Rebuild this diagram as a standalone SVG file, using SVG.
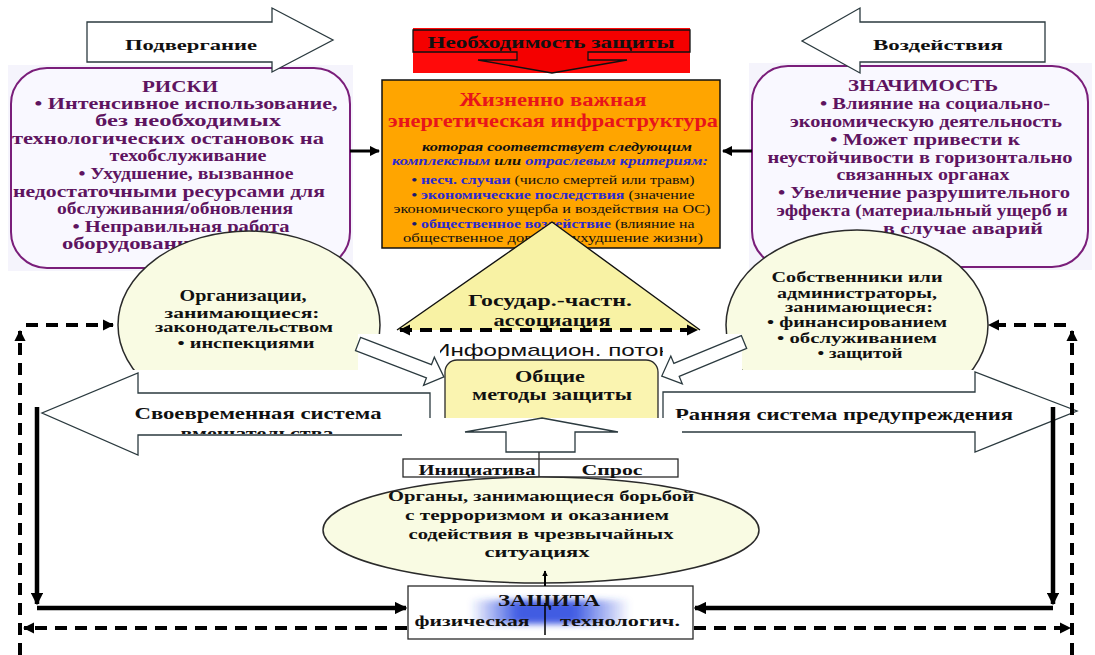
<svg xmlns="http://www.w3.org/2000/svg" width="1095" height="655" viewBox="0 0 1095 655">
  <defs>
    <style>
      .t { font-family: "Liberation Serif", "DejaVu Serif", serif; font-weight: bold; text-anchor: middle; }
      .s { font-family: "Liberation Sans", "DejaVu Sans", sans-serif; text-anchor: middle; }
      .purple { fill: #5E1460; font-size: 16px; }
      .blk { fill: #111; }
      .red { fill: #E8141B; font-size: 18px; }
      .sm { font-size: 12px; }
      .blue { fill: #2A2ACF; }
      .nrm { font-weight: normal; }
      .ital { font-style: italic; }
      .box { stroke: #7A1E7A; stroke-width: 2; fill: #F9F8FF; }
      .bg { fill: #F5F4FC; }
      .oval { fill: #F9FBE3; stroke: #2a2a2a; stroke-width: 1.5; }
      .blockarrow { fill: #fff; stroke: #2b3a3f; stroke-width: 1.3; }
      .thick { fill: none; stroke: #000; stroke-width: 4.5; }
      .dash { fill: none; stroke: #000; stroke-width: 4; stroke-dasharray: 12 8; }
      .thin { fill: none; stroke: #000; stroke-width: 3; }
    </style>
    <marker id="tip" viewBox="0 0 10 10" refX="9" refY="5" markerWidth="2.8" markerHeight="2.8" orient="auto">
      <path d="M0,0 L10,5 L0,10 z" fill="#000"/>
    </marker>
    <marker id="tipS" viewBox="0 0 10 10" refX="9" refY="5" markerWidth="3.5" markerHeight="3.5" orient="auto">
      <path d="M0,0 L10,5 L0,10 z" fill="#000"/>
    </marker>
    <marker id="tipStart" viewBox="0 0 10 10" refX="1" refY="5" markerWidth="2.8" markerHeight="2.8" orient="auto">
      <path d="M10,0 L0,5 L10,10 z" fill="#000"/>
    </marker>
    <linearGradient id="glow" x1="0" y1="0" x2="1" y2="0">
      <stop offset="0" stop-color="#2C4BE0" stop-opacity="0"/>
      <stop offset="0.3" stop-color="#2C4BE0" stop-opacity="0.9"/>
      <stop offset="0.65" stop-color="#2C4BE0" stop-opacity="0.9"/>
      <stop offset="1" stop-color="#2C4BE0" stop-opacity="0"/>
    </linearGradient>
    <filter id="soft" x="-20%" y="-50%" width="140%" height="200%">
      <feGaussianBlur stdDeviation="3"/>
    </filter>
    <clipPath id="clipInfo"><rect x="440" y="330" width="223" height="30"/></clipPath>
    <clipPath id="clipLeftArrow"><rect x="40" y="370" width="400" height="64"/></clipPath>
  </defs>

  <rect width="1095" height="655" fill="#fff"/>

  <!-- risks -->
  <g id="risks">
    <rect class="bg" x="8" y="65" width="345" height="206"/>
    <rect class="box" x="11" y="68" width="339" height="200" rx="36"/>
    <text class="t purple" x="180" y="92" textLength="76" lengthAdjust="spacingAndGlyphs">РИСКИ</text>
    <text class="t purple" x="186" y="109" textLength="303" lengthAdjust="spacingAndGlyphs">• Интенсивное использование,</text>
    <text class="t purple" x="188" y="126" textLength="186" lengthAdjust="spacingAndGlyphs">без необходимых</text>
    <text class="t purple" x="168" y="144" textLength="312" lengthAdjust="spacingAndGlyphs">технологических остановок на</text>
    <text class="t purple" x="188" y="161" textLength="157" lengthAdjust="spacingAndGlyphs">техобслуживание</text>
    <text class="t purple" x="186" y="179" textLength="215" lengthAdjust="spacingAndGlyphs">• Ухудшение, вызванное</text>
    <text class="t purple" x="169" y="197" textLength="312" lengthAdjust="spacingAndGlyphs">недостаточными ресурсами для</text>
    <text class="t purple" x="175" y="214" textLength="236" lengthAdjust="spacingAndGlyphs">обслуживания/обновления</text>
    <text class="t purple" x="181" y="232" textLength="217" lengthAdjust="spacingAndGlyphs">• Неправильная работа</text>
    <text class="t purple" x="62" y="249" style="text-anchor:start" textLength="140" lengthAdjust="spacingAndGlyphs">оборудования</text>
  </g>

  <!-- significance -->
  <g id="significance">
    <rect class="bg" x="749" y="63" width="343" height="207"/>
    <rect class="box" x="752" y="66" width="336" height="201" rx="36"/>
    <text class="t purple" x="923" y="91" textLength="150" lengthAdjust="spacingAndGlyphs">ЗНАЧИМОСТЬ</text>
    <text class="t purple" x="935" y="109" textLength="230" lengthAdjust="spacingAndGlyphs">• Влияние на социально-</text>
    <text class="t purple" x="926" y="127" textLength="272" lengthAdjust="spacingAndGlyphs">экономическую деятельность</text>
    <text class="t purple" x="925" y="145" textLength="190" lengthAdjust="spacingAndGlyphs">• Может привести к</text>
    <text class="t purple" x="920" y="163" textLength="305" lengthAdjust="spacingAndGlyphs">неустойчивости в горизонтально</text>
    <text class="t purple" x="923" y="180" textLength="173" lengthAdjust="spacingAndGlyphs">связанных органах</text>
    <text class="t purple" x="924" y="198" textLength="292" lengthAdjust="spacingAndGlyphs">• Увеличение разрушительного</text>
    <text class="t purple" x="922" y="216" textLength="291" lengthAdjust="spacingAndGlyphs">эффекта (материальный ущерб и</text>
    <text class="t purple" x="1043" y="234" style="text-anchor:end" textLength="160" lengthAdjust="spacingAndGlyphs">в случае аварий</text>
  </g>

  <!-- exposure / impact block arrows -->
  <g id="exposure">
    <polygon class="blockarrow" points="87,22 272,22 272,8 333,40 272,72 272,62 87,62"/>
    <text class="t blk" x="191" y="50" font-size="15" textLength="132" lengthAdjust="spacingAndGlyphs">Подвергание</text>
  </g>
  <g id="impact">
    <polygon class="blockarrow" points="1045,22 860,22 860,8 802,41 860,73 860,62 1045,62"/>
    <text class="t blk" x="938" y="50" font-size="15" textLength="130" lengthAdjust="spacingAndGlyphs">Воздействия</text>
  </g>

  <!-- need for protection -->
  <g id="need">
    <rect x="413" y="28" width="277" height="45" fill="#FF0A0A"/>
    <path d="M413,30 H690 V52 H588 V60 H627 L552,73 L478,60 H517 V52 H413 Z" fill="#F40000" stroke="#111" stroke-width="1.3"/>
    <text class="t blk" x="551" y="48" font-size="17" textLength="247" lengthAdjust="spacingAndGlyphs">Необходимость защиты</text>
  </g>

  <!-- critical energy infrastructure -->
  <g id="infrastructure">
    <rect x="382" y="80" width="338" height="168" fill="#FFA500" stroke="#111" stroke-width="1.5"/>
    <text class="t red" x="553" y="106" textLength="187" lengthAdjust="spacingAndGlyphs">Жизненно важная</text>
    <text class="t red" x="553" y="127" textLength="330" lengthAdjust="spacingAndGlyphs">энергетическая инфраструктура</text>
    <text class="t sm ital blk" x="557" y="151" textLength="270" lengthAdjust="spacingAndGlyphs">которая соответствует следующим</text>
    <text class="t sm ital" x="550" y="165" textLength="316" lengthAdjust="spacingAndGlyphs"><tspan class="blue">комплексным </tspan><tspan class="blk">или </tspan><tspan class="blue">отраслевым критериям:</tspan></text>
    <text class="t sm" x="553" y="184" textLength="283" lengthAdjust="spacingAndGlyphs"><tspan fill="#1a1a6e">• </tspan><tspan class="blue">несч. случаи </tspan><tspan class="blk nrm">(число смертей или травм)</tspan></text>
    <text class="t sm" x="553" y="199" textLength="283" lengthAdjust="spacingAndGlyphs"><tspan fill="#1a1a6e">• </tspan><tspan class="blue">экономические последствия </tspan><tspan class="blk nrm">(значение</tspan></text>
    <text class="t sm nrm blk" x="552" y="213" textLength="317" lengthAdjust="spacingAndGlyphs">экономического ущерба и воздействия на ОС)</text>
    <text class="t sm" x="553" y="228" textLength="283" lengthAdjust="spacingAndGlyphs"><tspan fill="#1a1a6e">• </tspan><tspan class="blue">общественное воздействие </tspan><tspan class="blk nrm">(влияние на</tspan></text>
    <text class="t sm nrm blk" x="553" y="242" textLength="300" lengthAdjust="spacingAndGlyphs">общественное доверие, ухудшение жизни)</text>
  </g>

  <!-- regulators -->
  <g id="regulators">
    <ellipse class="oval" cx="249" cy="325" rx="131" ry="94"/>
    <text class="t blk" x="243" y="301" font-size="16" textLength="127" lengthAdjust="spacingAndGlyphs">Организации,</text>
    <text class="t blk" x="242" y="318" font-size="14" textLength="155" lengthAdjust="spacingAndGlyphs">занимающиеся:</text>
    <text class="t blk" x="244" y="332" font-size="14" textLength="178" lengthAdjust="spacingAndGlyphs">законодательством</text>
    <text class="t blk" x="246" y="348" font-size="14" textLength="137" lengthAdjust="spacingAndGlyphs">• инспекциями</text>
  </g>

  <!-- owners / operators -->
  <g id="owners">
    <ellipse class="oval" cx="857" cy="325" rx="131" ry="95"/>
    <text class="t blk" x="857" y="282" font-size="14" textLength="171" lengthAdjust="spacingAndGlyphs">Собственники или</text>
    <text class="t blk" x="857" y="298" font-size="14" textLength="160" lengthAdjust="spacingAndGlyphs">администраторы,</text>
    <text class="t blk" x="859" y="312" font-size="14" textLength="148" lengthAdjust="spacingAndGlyphs">занимающиеся:</text>
    <text class="t blk" x="857" y="327" font-size="14" textLength="180" lengthAdjust="spacingAndGlyphs">• финансированием</text>
    <text class="t blk" x="857" y="343" font-size="14" textLength="160" lengthAdjust="spacingAndGlyphs">• обслуживанием</text>
    <text class="t blk" x="860" y="358" font-size="14" textLength="85" lengthAdjust="spacingAndGlyphs">• защитой</text>
  </g>

  <!-- public-private association -->
  <g id="association">
    <polygon points="552,222 397,330 700,330" fill="#F8F2A4"/>
    <polyline points="397,330 552,222 700,330" fill="none" stroke="#111" stroke-width="1.4"/>
    <text class="t blk" x="550" y="306" font-size="16" textLength="164" lengthAdjust="spacingAndGlyphs">Государ.-частн.</text>
    <text class="t blk" x="552" y="326" font-size="16" textLength="117" lengthAdjust="spacingAndGlyphs">ассоциация</text>
  </g>

  <!-- white areas of the lower block arrows -->
  <g id="masks" fill="#fff">
    <rect x="358" y="334" width="88" height="40"/>
    <rect x="100" y="370" width="346" height="30"/>
    <rect x="662" y="334" width="80" height="40"/>
    <rect x="662" y="370" width="335" height="30"/>
  </g>

  <!-- information flow -->
  <g id="info-flow">
    <text class="s" x="551" y="356" font-size="17" fill="#111" clip-path="url(#clipInfo)" textLength="236" lengthAdjust="spacingAndGlyphs">Информацион. поток</text>
  </g>

  <!-- common protection methods -->
  <g id="methods">
    <rect x="445" y="360" width="213" height="90" rx="12" fill="#FAF4B0" stroke="#2a2a2a" stroke-width="1.3"/>
    <text class="t blk" x="550" y="382" font-size="16" textLength="70" lengthAdjust="spacingAndGlyphs">Общие</text>
    <text class="t blk" x="552" y="400" font-size="16" textLength="160" lengthAdjust="spacingAndGlyphs">методы защиты</text>
  </g>

  <!-- intervention system (left) -->
  <g id="intervention">
    <polygon class="blockarrow" points="430,393 138,393 138,373 42,413 138,455 138,435 430,435"/>
    <g clip-path="url(#clipLeftArrow)">
      <text class="t blk" x="258" y="419" font-size="16" textLength="247" lengthAdjust="spacingAndGlyphs">Своевременная система</text>
      <text class="t blk" x="257" y="439" font-size="16" textLength="153" lengthAdjust="spacingAndGlyphs">вмешательства</text>
    </g>
  </g>

  <!-- early warning system (right) -->
  <g id="early-warning">
    <polygon class="blockarrow" points="663,392 975,392 975,372 1077,411 975,452 975,432 663,432"/>
    <text class="t blk" x="844" y="420" font-size="16" textLength="338" lengthAdjust="spacingAndGlyphs">Ранняя система предупреждения</text>
  </g>

  <!-- information flow arrows -->
  <g id="info-arrows">
    <polygon class="blockarrow" transform="translate(358,344) rotate(21)" points="0,-7 76,-7 76,-15 92,0 76,15 76,7 0,7"/>
    <polygon class="blockarrow" transform="translate(744,342) rotate(157.5)" points="0,-7 73,-7 73,-15 89,0 73,15 73,7 0,7"/>
  </g>

  <rect x="402" y="418" width="280" height="40" fill="#fff"/>

  <!-- initiative / demand -->
  <g id="initiative">
    <polygon class="blockarrow" points="542,418 618,432 575,432 575,452 506,452 506,432 465,432"/>
    <rect x="403" y="459" width="275" height="18" fill="#fff" stroke="#2a2a2a" stroke-width="1.3"/>
    <line x1="539" y1="452" x2="539" y2="477" stroke="#2a2a2a" stroke-width="1.3"/>
    <text class="t blk" x="477" y="475" font-size="15" textLength="117" lengthAdjust="spacingAndGlyphs">Инициатива</text>
    <text class="t blk" x="612" y="475" font-size="15" textLength="61" lengthAdjust="spacingAndGlyphs">Спрос</text>
  </g>

  <!-- counter-terrorism and emergency bodies -->
  <g id="emergency">
    <ellipse class="oval" cx="541" cy="530" rx="218" ry="53"/>
    <text class="t blk" x="541" y="501" font-size="15" textLength="306" lengthAdjust="spacingAndGlyphs">Органы, занимающиеся борьбой</text>
    <text class="t blk" x="537" y="520" font-size="15" textLength="264" lengthAdjust="spacingAndGlyphs">с терроризмом и оказанием</text>
    <text class="t blk" x="541" y="539" font-size="15" textLength="265" lengthAdjust="spacingAndGlyphs">содействия в чрезвычайных</text>
    <text class="t blk" x="537" y="557" font-size="15" textLength="105" lengthAdjust="spacingAndGlyphs">ситуациях</text>
  </g>

  <!-- protection -->
  <g id="protection">
    <rect x="408" y="586" width="285" height="53" fill="#fff" stroke="#2a2a2a" stroke-width="1.3"/>
    <rect x="470" y="600" width="160" height="24" fill="url(#glow)" filter="url(#soft)"/>
    <text class="t blk" x="549" y="606" font-size="16" textLength="102" lengthAdjust="spacingAndGlyphs">ЗАЩИТА</text>
    <text class="t blk" x="472" y="626" font-size="15" textLength="115" lengthAdjust="spacingAndGlyphs">физическая</text>
    <text class="t blk" x="620" y="626" font-size="15" textLength="120" lengthAdjust="spacingAndGlyphs">технологич.</text>
    <line x1="545" y1="603" x2="545" y2="635" stroke="#000" stroke-width="1.5"/>
  </g>

  <!-- connectors -->
  <g id="connectors">
    <path class="thin" d="M350,151 H379" marker-end="url(#tipS)"/>
    <path class="thin" d="M752,151 H723" marker-end="url(#tipS)"/>
    <path class="dash" d="M400,330 H697" marker-start="url(#tipStart)" marker-end="url(#tip)"/>
    <path d="M545,571 V586" stroke="#000" stroke-width="2" marker-start="url(#tipStart)"/>

    <path class="thick" d="M37,407 V604" marker-end="url(#tip)"/>
    <path class="thick" d="M37,608 H406" marker-end="url(#tip)"/>
    <path class="thick" d="M1053,407 V604" marker-end="url(#tip)"/>
    <path class="thick" d="M1053,608 H695" marker-end="url(#tip)"/>

    <path class="dash" d="M20,655 V331" marker-end="url(#tip)"/>
    <path class="dash" d="M26,325 H113" marker-end="url(#tip)"/>
    <path class="dash" d="M407,628 H24" marker-end="url(#tip)"/>
    <path class="dash" d="M1072,655 V331" marker-end="url(#tip)"/>
    <path class="dash" d="M1066,325 H989" marker-end="url(#tip)"/>
    <path class="dash" d="M694,628 H1070" marker-end="url(#tip)"/>
  </g>
</svg>
